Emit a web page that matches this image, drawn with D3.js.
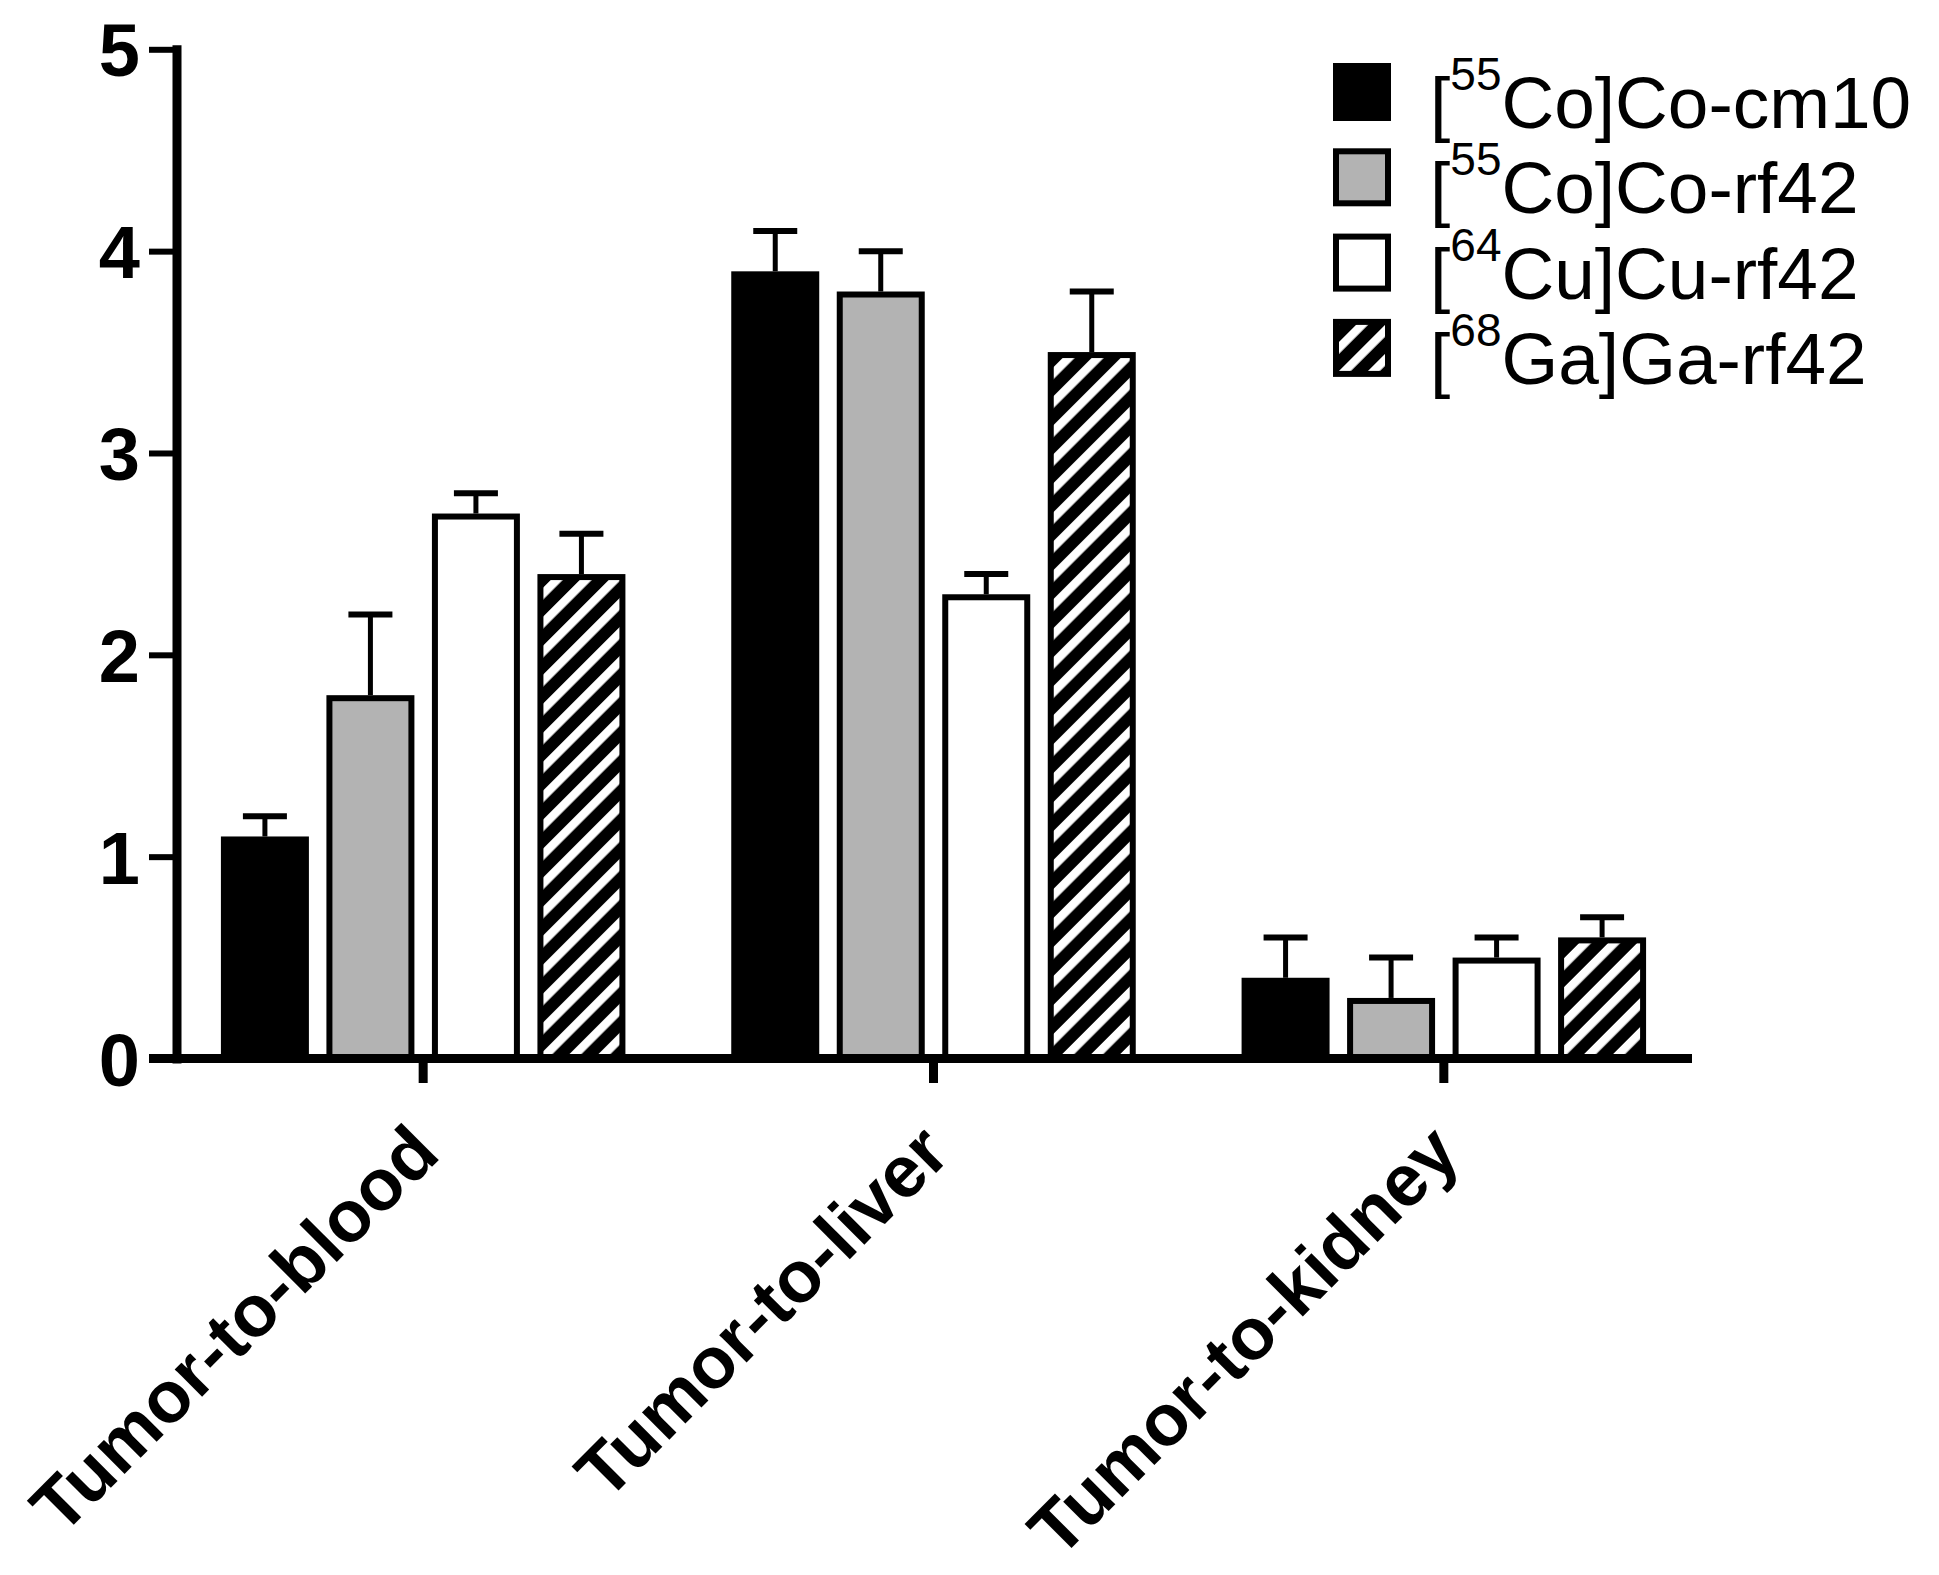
<!DOCTYPE html>
<html>
<head>
	<meta charset="utf-8">
	<title>Tumor-to-organ ratios</title>
	<script src="https://cdn.jsdelivr.net/npm/d3@7/dist/d3.min.js"></script>
	<style>
		body { margin: 0; background: #fff; }
		svg { display: block; font-family: Arial, "Liberation Sans", sans-serif; }
	</style>
</head>
<body>
	<svg id="chart" width="1939" height="1575"></svg>
	<script>
		// data
		const categories = ["Tumor-to-blood", "Tumor-to-liver", "Tumor-to-kidney"];
		const seriesLabels = ["[55Co]Co-cm10", "[55Co]Co-rf42", "[64Cu]Cu-rf42", "[68Ga]Ga-rf42"];
		const coCm10 = [1.1, 3.9, 0.4];
		const coRf42 = [1.8, 3.8, 0.3];
		const cuRf42 = [2.7, 2.3, 0.5];
		const gaRf42 = [2.4, 3.5, 0.6];
		const coCm10Err = [0.1, 0.2, 0.2];
		const coRf42Err = [0.4, 0.2, 0.2];
		const cuRf42Err = [0.1, 0.1, 0.1];
		const gaRf42Err = [0.2, 0.3, 0.1];
		const yTicks = [0, 1, 2, 3, 4, 5];

		const values = [coCm10, coRf42, cuRf42, gaRf42];
		const errors = [coCm10Err, coRf42Err, cuRf42Err, gaRf42Err];
		const fills = ["#000", "#b3b3b3", "#fff", "url(#hatch)"];

		const svg = d3.select("#chart");
		const sw = 6; // bar outline

		// hatch pattern
		const pat = svg.append("defs").append("pattern")
			.attr("id", "hatch")
			.attr("patternUnits", "userSpaceOnUse")
			.attr("width", 20.5).attr("height", 20.5)
			.attr("patternTransform", "rotate(45)");
		pat.append("rect").attr("width", 20.5).attr("height", 20.5).attr("fill", "#000");
		pat.append("rect").attr("width", 8.5).attr("height", 20.5).attr("fill", "#fff");

		const y = d3.scaleLinear().domain([0, 5]).range([1058.5, 49.3]);
		const x = d3.scaleBand().domain(categories).range([168, 1699]);
		const xs = d3.scaleBand().domain(d3.range(seriesLabels.length))
			.range([-202.25, 202.25]).paddingInner(0.166);

		const rows = [];
		categories.forEach((c, ci) => {
			values.forEach((vals, si) => {
				rows.push({ cat: c, s: si, v: vals[ci], e: errors[si][ci] });
			});
		});
		const cx = d => x(d.cat) + x.bandwidth() / 2 + xs(d.s) + xs.bandwidth() / 2;

		// error bars
		const eb = svg.append("g").selectAll("g").data(rows).enter().append("g");
		eb.append("line")
			.attr("x1", cx).attr("x2", cx)
			.attr("y1", d => y(d.v)).attr("y2", d => y(d.v + d.e))
			.attr("stroke", "#000").attr("stroke-width", 5);
		eb.append("line")
			.attr("x1", d => cx(d) - 22).attr("x2", d => cx(d) + 22)
			.attr("y1", d => y(d.v + d.e)).attr("y2", d => y(d.v + d.e))
			.attr("stroke", "#000").attr("stroke-width", 6);

		// bars
		svg.append("g").selectAll("rect").data(rows).enter().append("rect")
			.attr("x", d => x(d.cat) + x.bandwidth() / 2 + xs(d.s) + sw / 2)
			.attr("y", d => y(d.v) + sw / 2)
			.attr("width", xs.bandwidth() - sw)
			.attr("height", d => y(0) - y(d.v) - sw / 2)
			.attr("fill", d => fills[d.s])
			.attr("stroke", "#000")
			.attr("stroke-width", sw);

		// y axis
		const yAxis = svg.append("g")
			.attr("transform", "translate(176.5,0)")
			.call(d3.axisLeft(y).tickValues(yTicks).tickFormat(d3.format("d"))
				.tickSize(27.5).tickSizeOuter(0).tickPadding(9));
		yAxis.select(".domain").attr("stroke-width", 9).attr("stroke-linecap", "square");
		yAxis.selectAll(".tick line").attr("stroke-width", 6);
		yAxis.selectAll(".tick text")
			.attr("font-size", 74).attr("font-weight", "bold")
			.attr("font-family", "Arial, 'Liberation Sans', sans-serif")
			.attr("fill", "#000").attr("dy", "0.36em");

		// x axis
		const xAxis = svg.append("g")
			.attr("transform", `translate(0,${y(0)})`)
			.call(d3.axisBottom(x).tickSize(24.5).tickSizeOuter(0));
		xAxis.select(".domain").remove();
		xAxis.selectAll(".tick line").attr("stroke-width", 9);
		xAxis.selectAll(".tick text")
			.attr("font-size", 73).attr("font-weight", "bold")
			.attr("font-family", "Arial, 'Liberation Sans', sans-serif")
			.attr("fill", "#000")
			.attr("y", 0).attr("dy", 0)
			.attr("text-anchor", "end")
			.attr("transform", "translate(19,98) rotate(-45)");
		svg.append("line")
			.attr("x1", 149).attr("x2", 1692)
			.attr("y1", y(0)).attr("y2", y(0))
			.attr("stroke", "#000").attr("stroke-width", 9);

		// legend
		const leg = svg.append("g").selectAll("g").data(seriesLabels).enter().append("g")
			.attr("transform", (d, i) => `translate(1333,${92 + i * 85.3})`);
		leg.append("rect")
			.attr("x", sw / 2).attr("y", -29 + sw / 2)
			.attr("width", 58 - sw).attr("height", 58 - sw)
			.attr("fill", (d, i) => fills[i])
			.attr("stroke", "#000").attr("stroke-width", sw);
		const lt = leg.append("text")
			.attr("x", 97).attr("y", 36)
			.attr("font-size", 73).attr("fill", "#000");
		lt.each(function (d) {
			const m = d.match(/^\[(\d+)(.*)$/);
			const t = d3.select(this);
			t.append("tspan").text("[");
			t.append("tspan").attr("font-size", 46).attr("dy", -38).text(m[1]);
			t.append("tspan").attr("dy", 38).text(m[2]);
		});
	</script>
</body>
</html>
